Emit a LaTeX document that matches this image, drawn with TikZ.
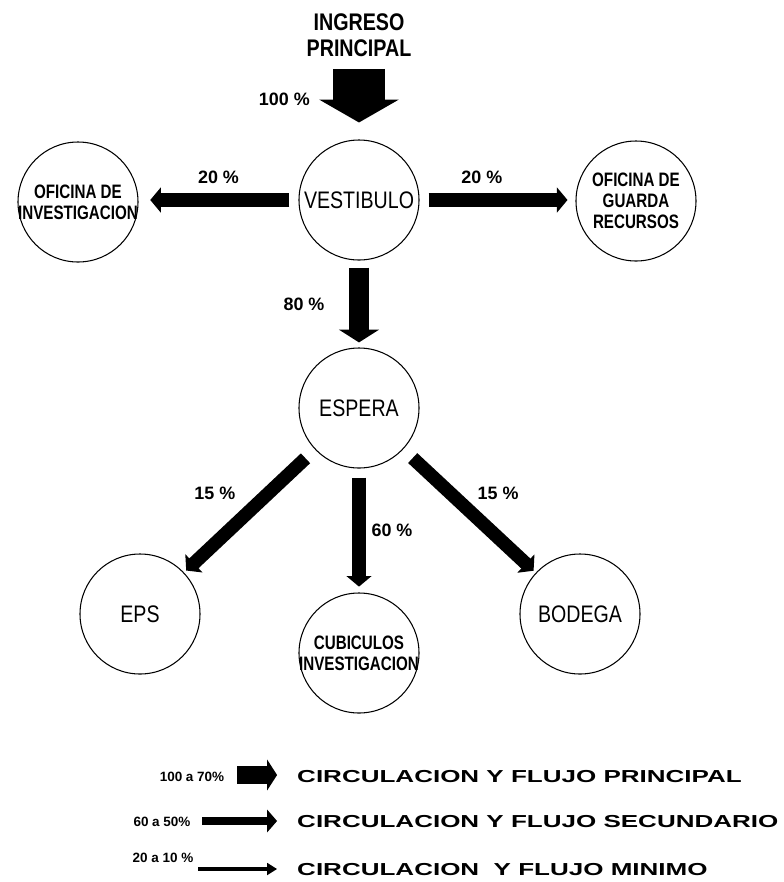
\documentclass[tikz,border=0pt]{standalone}
\usepackage{fontspec}
\setmainfont{Liberation Sans}
\newfontfamily\roomfont{Liberation Sans}[FakeStretch=0.82]
\newfontfamily\narrowfont{Liberation Sans}[FakeStretch=0.78]
\newfontfamily\widefont{Liberation Sans}[FakeStretch=1.5]
\usetikzlibrary{arrows.meta, positioning}

\begin{document}
\begin{tikzpicture}[
    x=0.03cm, y=-0.03cm,
    room/.style={
        circle, draw, line width=0.9pt,
        minimum size=3.6cm, inner sep=0pt,
        align=center, font=\roomfont\fontsize{20.4}{24}\selectfont
    },
    smallroom/.style={
        room, font=\narrowfont\bfseries\fontsize{16.6}{18}\selectfont
    },
    flowmain/.style={line width=44pt, -{Triangle[length=19.5pt, width=67pt]}},
    flowbig/.style={line width=17pt, -{Triangle[length=11pt, width=34pt]}},
    flow/.style={line width=11.5pt, -{Triangle[length=9pt, width=21pt]}},
    keymain/.style={line width=15pt, -{Triangle[length=8.5pt, width=26pt]}},
    keymid/.style={line width=7pt, -{Triangle[length=8.5pt, width=19pt]}},
    keythin/.style={line width=3.4pt, -{Triangle[length=8.5pt, width=10pt]}},
    lbl/.style={font=\bfseries\fontsize{15.3}{17}\selectfont, inner sep=0pt},
    keylbl/.style={font=\bfseries\fontsize{11.5}{13}\selectfont, inner sep=0pt},
    keytxt/.style={font=\widefont\bfseries\fontsize{14.8}{17}\selectfont,
        inner sep=0pt, anchor=west}
]
\useasboundingbox (0,0) rectangle (784,882);

% spaces
\node[font=\roomfont\bfseries\fontsize{20.5}{22}\selectfont, align=center, inner sep=2pt]
    (ingreso) at (359, 35) {INGRESO\\PRINCIPAL};
\node[room]      (vest)   at (359, 200) {VESTIBULO};
\node[smallroom, inner xsep=-10pt] (ofinv) at (78, 202) {OFICINA DE\\INVESTIGACION};
\node[smallroom] (ofguar) at (636, 201) {OFICINA DE\\GUARDA\\RECURSOS};
\node[room]      (espera) at (359, 408) {ESPERA};
\node[room]      (eps)    at (140, 614) {EPS};
\node[smallroom, inner xsep=-10pt] (cubic) at (359, 653) {CUBICULOS\\INVESTIGACION};
\node[room]      (bodega) at (580, 614) {BODEGA};

% flows
\draw[flowmain, shorten <=8.5pt, shorten >=14.5pt] (ingreso.south) -- node[lbl, left=20pt]{100 \%} (vest.north);
\draw[flow, shorten <=7.7pt, shorten >=10pt] (vest.west) -- node[lbl, above=8pt]{20 \%} (vest.west -| ofinv.east);
\draw[flow, shorten <=7.7pt, shorten >=6.8pt] (vest.east) -- node[lbl, above=8pt, pos=0.4]{20 \%} (vest.east -| ofguar.west);
\draw[flowbig, shorten <=6pt, shorten >=4.3pt] (vest.south) -- node[lbl, left=21pt]{80 \%} (espera.north);
\draw[flow, shorten <=11pt, shorten >=2.5pt] (espera) -- node[lbl, pos=0.36, left=22pt]{15 \%} (eps);
\draw[flow, shorten <=7.7pt, shorten >=5pt] (espera.south) -- node[lbl, right=5pt]{60 \%} (cubic.north);
\draw[flow, shorten <=11pt, shorten >=2.5pt] (espera) -- node[lbl, pos=0.36, right=17pt]{15 \%} (bodega);

% legend
\node[keylbl] (key1) at (192, 777) {100 a 70\%};
\node[keytxt] (txt1) at (297, 777) {CIRCULACION Y FLUJO PRINCIPAL};
\coordinate (k1) at (237, 775);
\draw[keymain, shorten >=17pt] (k1) -- (k1 -| txt1.west);

\node[keylbl] (key2) at (162, 822) {60 a 50\%};
\node[keytxt] (txt2) at (297, 822) {CIRCULACION Y FLUJO SECUNDARIO};
\coordinate (k2) at (202, 821);
\draw[keymid, shorten >=17pt] (k2) -- (k2 -| txt2.west);

\node[keylbl] (key3) at (163, 858) {20 a 10 \%};
\node[keytxt] (txt3) at (297, 870) {CIRCULACION\ \ Y FLUJO MINIMO};
\coordinate (k3) at (198, 869);
\draw[keythin, shorten >=17pt] (k3) -- (k3 -| txt3.west);

\end{tikzpicture}
\end{document}
